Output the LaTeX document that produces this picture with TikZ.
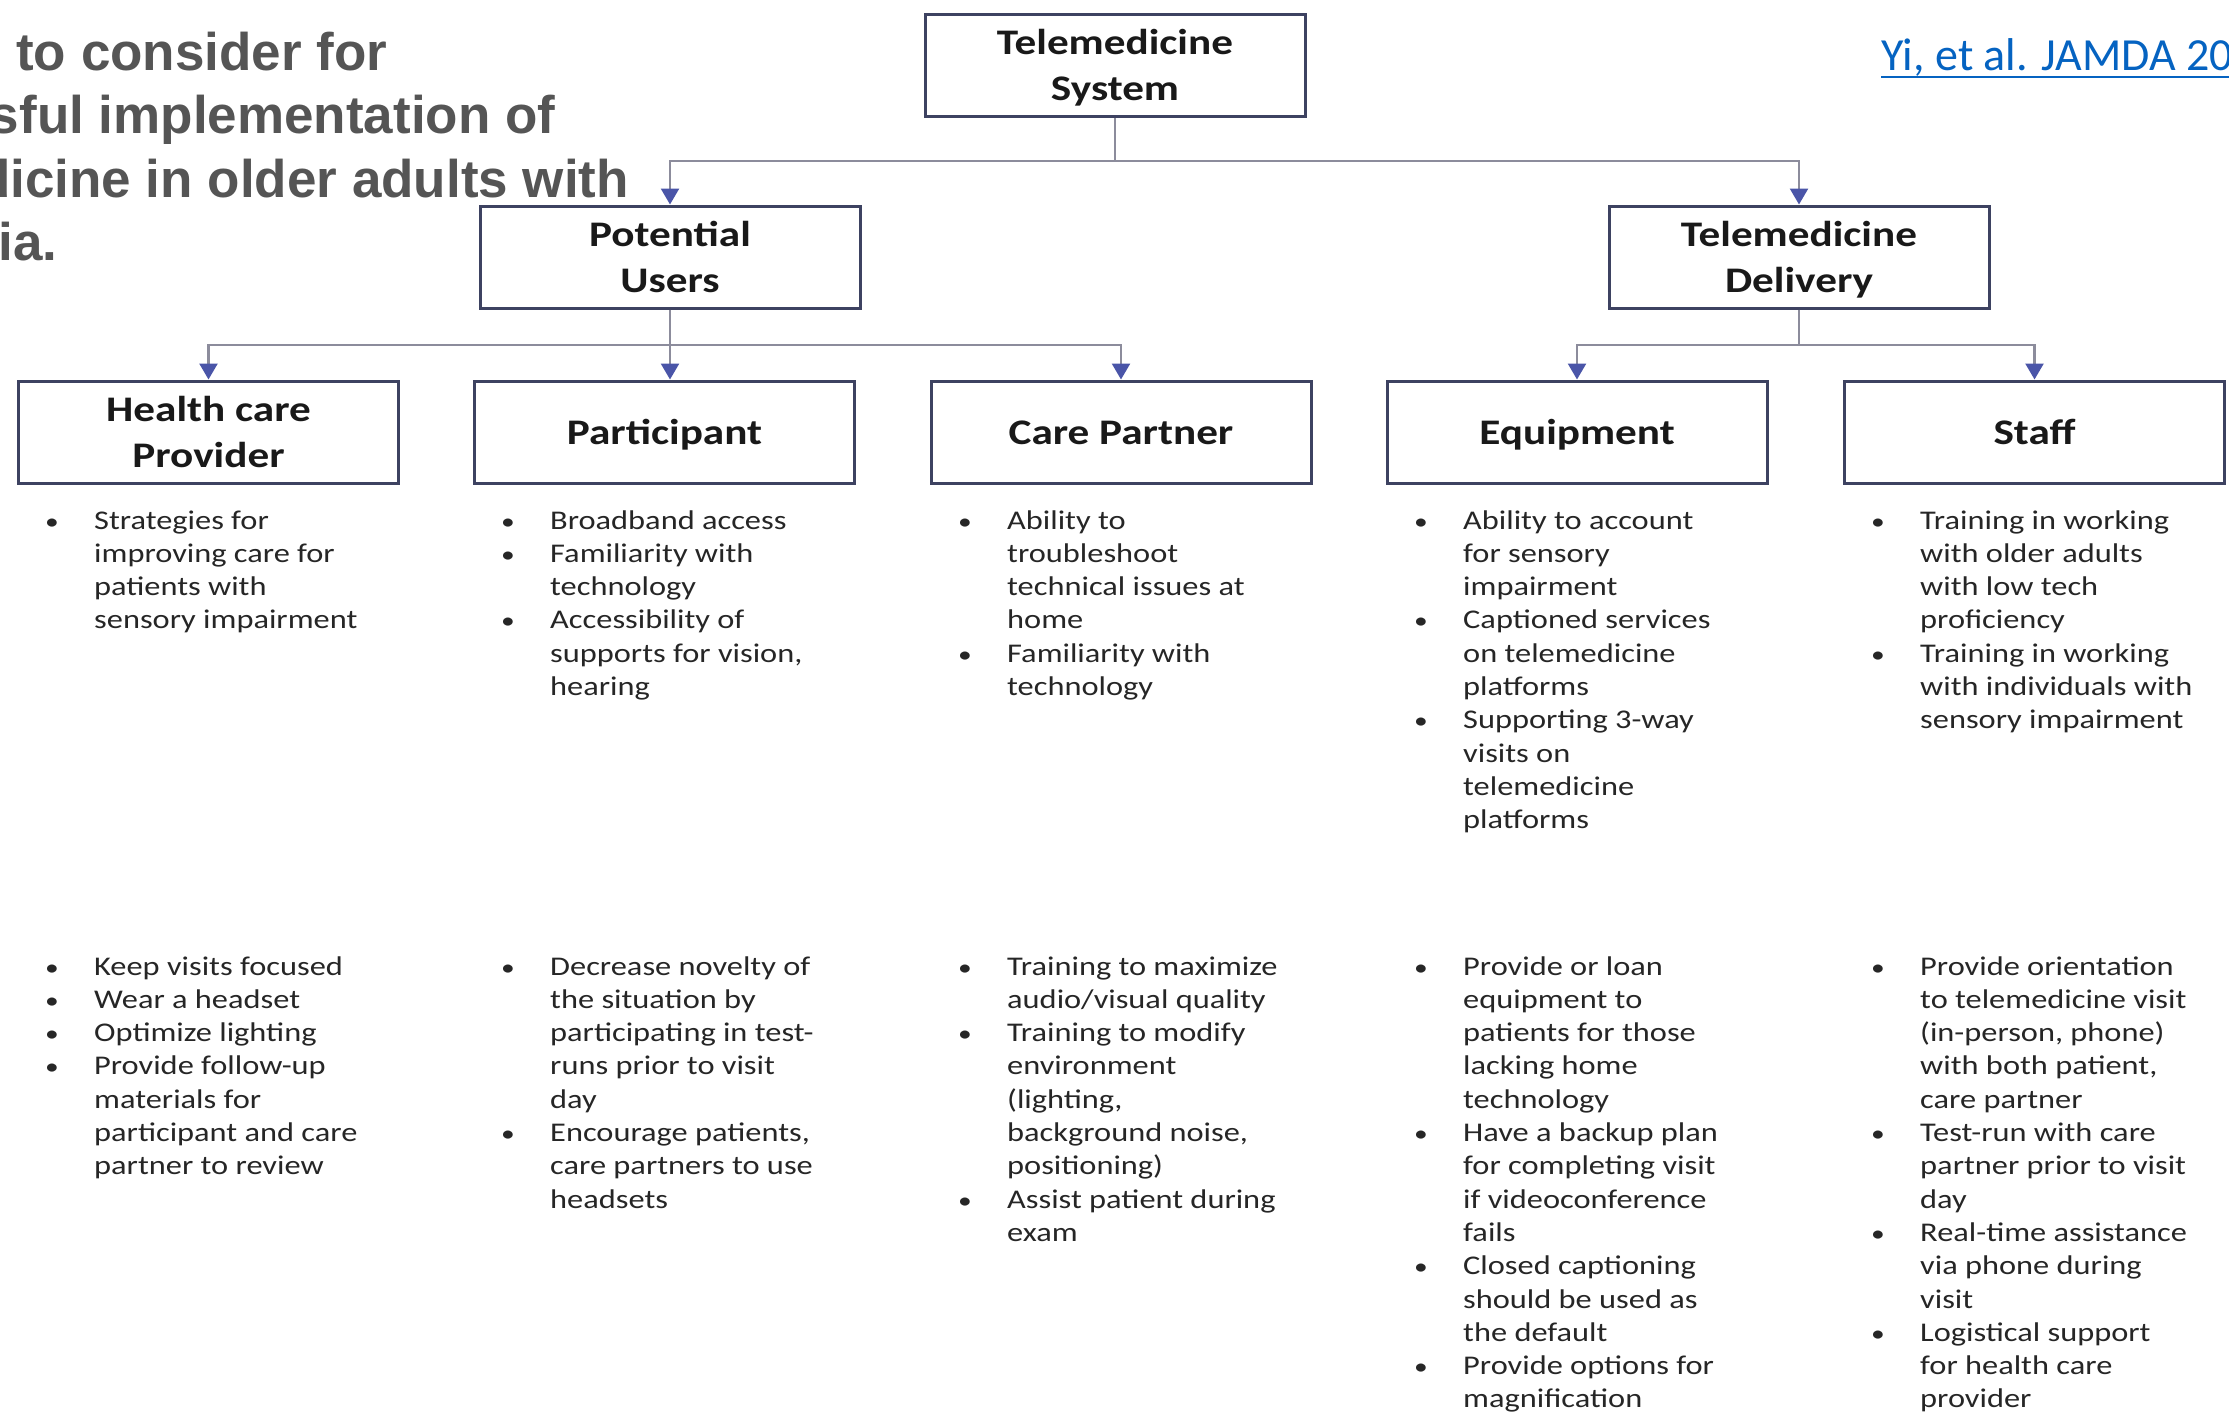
\documentclass[tikz,border=0pt]{standalone}
\usepackage{fontspec}
\setmainfont{Carlito}[FakeStretch=1.2]
\newfontfamily\linkfont{Carlito}
\newfontfamily\titlefont{Liberation Sans}
\usetikzlibrary{arrows.meta}

\definecolor{boxline}{HTML}{3D4261}
\definecolor{connline}{HTML}{8C8C9C}
\definecolor{arrowblue}{HTML}{4A55A8}
\definecolor{bulltext}{HTML}{262626}
\definecolor{titlegray}{HTML}{555555}
\definecolor{linkblue}{HTML}{0563C1}

% one bullet row and the list around it
\newcommand{\bt}{\hspace*{-6pt}\scalebox{0.85}{\textbullet} &}
\newcommand{\blist}[1]{\begin{tabular}[t]{@{}p{43pt}@{}l@{}}#1\end{tabular}}
% fixed line box for the box labels
\newcommand{\lb}{\rule[-10pt]{0pt}{44pt}}

\tikzset{
  box/.style={draw=boxline, line width=3pt, fill=white, minimum width=380pt, minimum height=102pt,
    align=center, inner sep=0pt, font=\fontsize{36}{46}\selectfont\bfseries, text=black!90},
  conn/.style={draw=connline, line width=2.5pt, -{Triangle[width=18pt,length=16pt,color=arrowblue]}},
  bullets/.style={anchor=base west, inner sep=0pt, font=\fontsize{27}{33.3}\selectfont, text=bulltext},
  headline/.style={anchor=base west, inner sep=0pt, font=\titlefont\bfseries\fontsize{53}{63.5}\selectfont, text=titlegray}
}

\begin{document}
\begin{tikzpicture}[x=1pt, y=-1pt]
  \useasboundingbox (0,0) rectangle (2229,1411);
  \clip (0,0) rectangle (2229,1411);
  \fill[white] (0,0) rectangle (2229,1411);

  % Slide title and reference
  \foreach \txt [count=\i] in {Factors to consider for, successful implementation of,
      telemedicine in older adults with, dementia.}
    \node[headline] (title\i) at (-190, {70+63.5*(\i-1)}) {\txt};
  \node[anchor=base west, inner sep=0pt, font=\linkfont\fontsize{46}{54}\selectfont, text=linkblue]
    (ref) at (1881, 70) {Yi, et al. JAMDA 2021};
  \draw[linkblue, line width=2.5pt] ([yshift=-7pt]ref.base west) -- ([yshift=-7pt]ref.base east);

  % Boxes
  \node[box] (sys) at (1115, 65.5) {\lb Telemedicine\\\lb System};
  \node[box] (users) at (670, 257) {\lb Potential\\\lb Users};
  \node[box] (delivery) at (1799, 257) {\lb Telemedicine\\\lb Delivery};

  \node[box] (hcp) at (208.5, 432) {\lb Health care\\\lb Provider};
  \node[box] (part) at (664.5, 432) {\lb Participant};
  \node[box] (cp) at (1121, 432) {\lb Care Partner};
  \node[box] (equip) at (1577, 432) {\lb Equipment};
  \node[box] (staff) at (2034.5, 432) {\lb Staff};

  % Connectors
  \coordinate (busTop) at (0, 161);
  \coordinate (busLow) at (0, 345);
  \draw[conn] (sys.south) -- (sys.south |- busTop) -| (users.north);
  \draw[conn] (sys.south |- busTop) -| (delivery.north);
  \draw[conn] (users.south) -- (users.south |- part.north);
  \draw[conn] (users.south |- busLow) -| (hcp.north);
  \draw[conn] (users.south |- busLow) -| (cp.north);
  \draw[conn] (delivery.south) -- (delivery.south |- busLow) -| (equip.north);
  \draw[conn] (delivery.south |- busLow) -| (staff.north);

  % Upper bullet lists
  \node[bullets] (hcpA) at (51, 529) {\blist{%
    \bt Strategies for\\ & improving care for\\ & patients with\\ & sensory impairment}};
  \node[bullets] (partA) at (507, 529) {\blist{%
    \bt Broadband access\\ \bt Familiarity with\\ & technology\\
    \bt Accessibility of\\ & supports for vision,\\ & hearing}};
  \node[bullets] (cpA) at (964, 529) {\blist{%
    \bt Ability to\\ & troubleshoot\\ & technical issues at\\ & home\\
    \bt Familiarity with\\ & technology}};
  \node[bullets] (equipA) at (1420, 529) {\blist{%
    \bt Ability to account\\ & for sensory\\ & impairment\\
    \bt Captioned services\\ & on telemedicine\\ & platforms\\
    \bt Supporting 3-way\\ & visits on\\ & telemedicine\\ & platforms}};
  \node[bullets] (staffA) at (1877, 529) {\blist{%
    \bt Training in working\\ & with older adults\\ & with low tech\\ & proficiency\\
    \bt Training in working\\ & with individuals with\\ & sensory impairment}};

  % Lower bullet lists
  \node[bullets] (hcpB) at (51, 975) {\blist{%
    \bt Keep visits focused\\ \bt Wear a headset\\ \bt Optimize lighting\\
    \bt Provide follow-up\\ & materials for\\ & participant and care\\ & partner to review}};
  \node[bullets] (partB) at (507, 975) {\blist{%
    \bt Decrease novelty of\\ & the situation by\\ & participating in test-\\ & runs prior to visit\\ & day\\
    \bt Encourage patients,\\ & care partners to use\\ & headsets}};
  \node[bullets] (cpB) at (964, 975) {\blist{%
    \bt Training to maximize\\ & audio/visual quality\\
    \bt Training to modify\\ & environment\\ & (lighting,\\ & background noise,\\ & positioning)\\
    \bt Assist patient during\\ & exam}};
  \node[bullets] (equipB) at (1420, 975) {\blist{%
    \bt Provide or loan\\ & equipment to\\ & patients for those\\ & lacking home\\ & technology\\
    \bt Have a backup plan\\ & for completing visit\\ & if videoconference\\ & fails\\
    \bt Closed captioning\\ & should be used as\\ & the default\\
    \bt Provide options for\\ & magnification}};
  \node[bullets] (staffB) at (1877, 975) {\blist{%
    \bt Provide orientation\\ & to telemedicine visit\\ & (in-person, phone)\\ & with both patient,\\ & care partner\\
    \bt Test-run with care\\ & partner prior to visit\\ & day\\
    \bt Real-time assistance\\ & via phone during\\ & visit\\
    \bt Logistical support\\ & for health care\\ & provider}};
\end{tikzpicture}
\end{document}
